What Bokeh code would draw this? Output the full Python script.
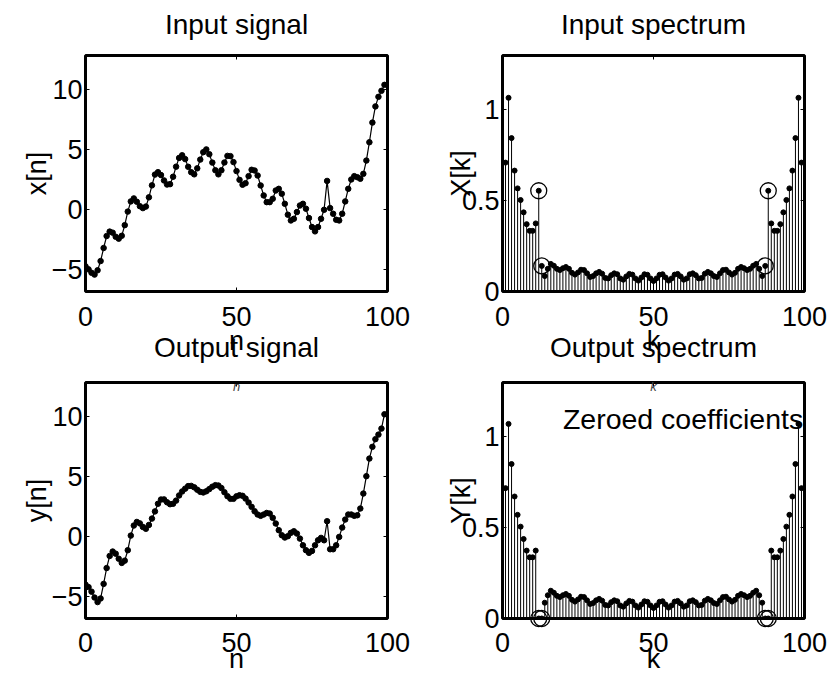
from bokeh.plotting import figure
from bokeh.layouts import column, row
from bokeh.models import FixedTicker, LinearAxis, Label, Range1d, ColumnDataSource, Title
from bokeh.embed import file_html
from bokeh.resources import INLINE

FONT = "Liberation Sans"
FS = "27px"
FS_TITLE = "28px"

# ---------------- data ----------------
n = list(range(100))
x_sig = [-4.75, -5.0, -5.29, -5.44, -5.08, -4.31, -3.22, -2.22, -1.85, -1.94,
         -2.28, -2.44, -2.2, -1.31, -0.18, 0.67, 0.92, 0.64, 0.27, 0.11,
         0.24, 1.01, 2.01, 2.91, 3.11, 2.87, 2.42, 2.08, 2.11, 2.73,
         3.57, 4.3, 4.52, 4.2, 3.56, 3.11, 2.93, 3.43, 4.16, 4.78,
         5.01, 4.61, 3.91, 3.27, 2.93, 3.27, 3.92, 4.47, 4.45, 3.95,
         3.2, 2.47, 2.06, 2.19, 2.78, 3.31, 3.25, 2.83, 2.0, 1.17,
         0.61, 0.61, 0.89, 1.58, 1.72, 1.31, 0.47, -0.44, -0.92, -0.78,
         -0.22, 0.33, 0.47, 0.06, -0.72, -1.47, -1.83, -1.47, -0.78, -0.03,
         2.38, 0.11, -0.36, -0.86, -0.92, -0.36, 0.67, 1.72, 2.5, 2.78,
         2.69, 2.56, 2.97, 4.08, 5.61, 7.25, 8.6, 9.4, 9.9, 10.4]
y_sig = [-4.02, -4.23, -4.61, -5.1, -5.48, -5.18, -3.96, -2.64, -1.63, -1.26,
         -1.44, -1.86, -2.21, -2.02, -1.15, 0.07, 0.91, 1.21, 1.09, 0.79,
         0.64, 0.96, 1.49, 2.09, 2.73, 3.08, 3.09, 2.85, 2.69, 2.73,
         2.99, 3.42, 3.75, 3.99, 4.2, 4.22, 4.1, 3.9, 3.72, 3.67,
         3.77, 3.95, 4.15, 4.28, 4.25, 4.04, 3.69, 3.36, 3.14, 3.14,
         3.35, 3.44, 3.39, 3.16, 2.83, 2.47, 2.1, 1.83, 1.72, 1.83,
         1.96, 1.91, 1.55, 1.08, 0.52, 0.1, -0.09, 0.02, 0.3, 0.43,
         0.24, -0.18, -0.74, -1.15, -1.37, -1.21, -0.74, -0.32, -0.12, -0.32,
         1.27, -1.07, -1.07, -0.74, -0.04, 0.74, 1.41, 1.83, 1.83, 1.72,
         1.77, 2.33, 3.58, 5.03, 6.5, 7.48, 8.12, 8.5, 9.0, 10.2]

k = list(range(1, 100))
X_mag = [0.71, 1.067, 0.845, 0.666, 0.568, 0.504, 0.436, 0.371, 0.334, 0.334,
         0.375, 0.555, 0.141, 0.085, 0.125, 0.152, 0.142, 0.125, 0.118, 0.128,
         0.135, 0.125, 0.103, 0.093, 0.105, 0.12, 0.118, 0.1, 0.08, 0.085,
         0.1, 0.108, 0.098, 0.075, 0.072, 0.09, 0.1, 0.095, 0.072, 0.065,
         0.083, 0.097, 0.093, 0.072, 0.06, 0.077, 0.095, 0.092, 0.072, 0.058,
         0.072, 0.092, 0.095, 0.077, 0.06, 0.072, 0.093, 0.097, 0.083, 0.065,
         0.072, 0.095, 0.1, 0.09, 0.072, 0.075, 0.098, 0.108, 0.1, 0.085,
         0.08, 0.1, 0.118, 0.12, 0.105, 0.093, 0.103, 0.125, 0.135, 0.128,
         0.118, 0.125, 0.142, 0.152, 0.125, 0.085, 0.141, 0.555, 0.375, 0.334,
         0.334, 0.371, 0.436, 0.504, 0.568, 0.666, 0.845, 1.067, 0.71]
Y_mag = [0.718, 1.072, 0.851, 0.672, 0.571, 0.506, 0.438, 0.374, 0.337, 0.337,
         0.374, 0.0, 0.0, 0.087, 0.128, 0.153, 0.142, 0.125, 0.118, 0.128,
         0.135, 0.125, 0.103, 0.093, 0.105, 0.12, 0.118, 0.1, 0.08, 0.085,
         0.1, 0.108, 0.098, 0.075, 0.072, 0.09, 0.1, 0.095, 0.072, 0.065,
         0.083, 0.097, 0.093, 0.072, 0.06, 0.077, 0.095, 0.092, 0.072, 0.058,
         0.072, 0.092, 0.095, 0.077, 0.06, 0.072, 0.093, 0.097, 0.083, 0.065,
         0.072, 0.095, 0.1, 0.09, 0.072, 0.075, 0.098, 0.108, 0.1, 0.085,
         0.08, 0.1, 0.118, 0.12, 0.105, 0.093, 0.103, 0.125, 0.135, 0.128,
         0.118, 0.125, 0.142, 0.153, 0.128, 0.087, 0.0, 0.0, 0.374, 0.337,
         0.337, 0.374, 0.438, 0.506, 0.571, 0.672, 0.851, 1.072, 0.718]
zeroed_k = [12, 13, 87, 88]

x_ticks = [0, 50, 100]
sig_ticks = [-5, 0, 5, 10]
spec_ticks = [0, 0.5, 1]
spec_tick_labels = {0: "0", 0.5: "0.5", 1: "1"}
sig_range = (-6.85, 12.85)
spec_range = (0.0, 1.3)

FRAME_W, FRAME_H = 302, 236


def spacer_axis(size):
    # invisible axis used only to reserve a band of pixels
    return LinearAxis(ticker=FixedTicker(ticks=x_ticks),
                      major_label_overrides={t: "" for t in x_ticks},
                      major_label_text_font_size="0px",
                      major_label_standoff=0,
                      axis_line_color=None,
                      major_tick_in=0, major_tick_out=size,
                      major_tick_line_color=None,
                      minor_tick_line_color=None)


def style_axes(p, yticks, ylabel, ylabel_standoff, xtick_standoff,
               overrides=None, spacer=True):
    p.grid.visible = False
    p.outline_line_color = "black"
    p.outline_line_width = 3
    p.outline_line_alpha = 1.0
    p.background_fill_color = "white"
    p.border_fill_color = "white"
    if p.title is not None:
        p.title.align = "center"
        p.title.text_font = FONT
        p.title.text_font_size = FS_TITLE
        p.title.text_font_style = "normal"
        p.title.text_color = "black"
        p.title.standoff = 0
    p.xaxis.ticker = FixedTicker(ticks=x_ticks)
    p.yaxis.ticker = FixedTicker(ticks=yticks)
    if overrides:
        p.yaxis.major_label_overrides = overrides
    for ax in (p.xaxis[0], p.yaxis[0]):
        ax.axis_line_color = None
        ax.major_tick_in = 4
        ax.major_tick_out = 0
        ax.major_tick_line_color = "black"
        ax.major_tick_line_width = 1
        ax.minor_tick_line_color = None
        ax.major_label_text_font = FONT
        ax.major_label_text_font_size = FS
        ax.major_label_text_color = "black"
        ax.axis_label_text_font = FONT
        ax.axis_label_text_font_size = FS
        ax.axis_label_text_font_style = "normal"
        ax.axis_label_text_color = "black"
    p.xaxis.major_label_standoff = xtick_standoff
    p.yaxis.major_label_standoff = 3
    p.yaxis.axis_label = ylabel
    p.yaxis.axis_label_standoff = ylabel_standoff
    # box ticks on the top and right sides
    for side, tk in (("above", x_ticks), ("right", yticks)):
        ax = LinearAxis(ticker=FixedTicker(ticks=tk),
                        major_label_overrides={t: "" for t in tk},
                        major_label_text_font_size="0px",
                        major_label_standoff=0,
                        axis_line_color=None,
                        major_tick_in=4, major_tick_out=0,
                        major_tick_line_color="black",
                        minor_tick_line_color=None)
        p.add_layout(ax, side)
    if spacer:
        p.add_layout(spacer_axis(16), "above")


def new_fig(title, yr, mb_left, mb_right, mb_top, mb_bottom):
    return figure(frame_width=FRAME_W, frame_height=FRAME_H, title=title,
                  x_range=Range1d(0, 100), y_range=Range1d(*yr),
                  output_backend="svg", toolbar_location=None,
                  min_border_left=mb_left, min_border_right=mb_right,
                  min_border_top=mb_top, min_border_bottom=mb_bottom)


def draw_signal(p, values):
    src = ColumnDataSource(dict(n=n, v=values))
    p.line("n", "v", source=src, line_color="black", line_width=1.2)
    p.scatter("n", "v", source=src, size=5.5, color="black")


def draw_spectrum(p, values, circ_y):
    src = ColumnDataSource(dict(k=k, v=values, base=[0.0] * len(k)))
    p.segment("k", "base", "k", "v", source=src, line_color="black", line_width=1)
    p.scatter("k", "v", source=src, size=5, color="black")
    p.scatter(zeroed_k, circ_y, marker="circle", size=16, fill_color=None,
              line_color="black", line_width=1.3, level="overlay")


def add_bottom_texts(p, xlabel, next_title):
    # x label of this panel and the title of the panel below overlap in the
    # original figure, so both are placed in this panel's lower border
    p.add_layout(spacer_axis(10), "below")
    p.add_layout(Title(text=xlabel, align="center", vertical_align="top",
                       standoff=-25, text_font=FONT, text_font_size=FS,
                       text_font_style="normal", text_color="black"), "below")
    p.add_layout(Title(text=next_title, align="center", vertical_align="top",
                       standoff=-27, text_font=FONT, text_font_size=FS_TITLE,
                       text_font_style="normal", text_color="black"), "below")


TOP_T, TOP_B = 55, 76
BOT_T, BOT_B = 15, 64

# upper row
p1 = new_fig("Input signal", sig_range, 85, 55, TOP_T, TOP_B)
style_axes(p1, sig_ticks, "x[n]", -3, 15)
draw_signal(p1, x_sig)
add_bottom_texts(p1, "n", "Output signal")

p2 = new_fig("Input spectrum", spec_range, 58, 24, TOP_T, TOP_B)
style_axes(p2, spec_ticks, "X[k]", -17, 15, spec_tick_labels)
draw_spectrum(p2, X_mag, [X_mag[i - 1] for i in zeroed_k])
add_bottom_texts(p2, "k", "Output spectrum")

# lower row
p3 = new_fig(None, sig_range, 85, 55, BOT_T, BOT_B)
style_axes(p3, sig_ticks, "y[n]", -3, 14, spacer=False)
p3.xaxis.axis_label = "n"
p3.xaxis.axis_label_standoff = -11
draw_signal(p3, y_sig)

p4 = new_fig(None, spec_range, 58, 24, BOT_T, BOT_B)
style_axes(p4, spec_ticks, "Y[k]", -17, 14, spec_tick_labels, spacer=False)
p4.xaxis.axis_label = "k"
p4.xaxis.axis_label_standoff = -11
draw_spectrum(p4, Y_mag, [0.0] * len(zeroed_k))
p4.add_layout(Label(x=20, y=1.1, text="Zeroed coefficients", text_align="left",
                    text_baseline="middle", text_font=FONT, text_font_size="28.5px",
                    text_color="black"))

layout = column(row(p1, p2), row(p3, p4))
open("out.html", "w").write(file_html(layout, INLINE))
